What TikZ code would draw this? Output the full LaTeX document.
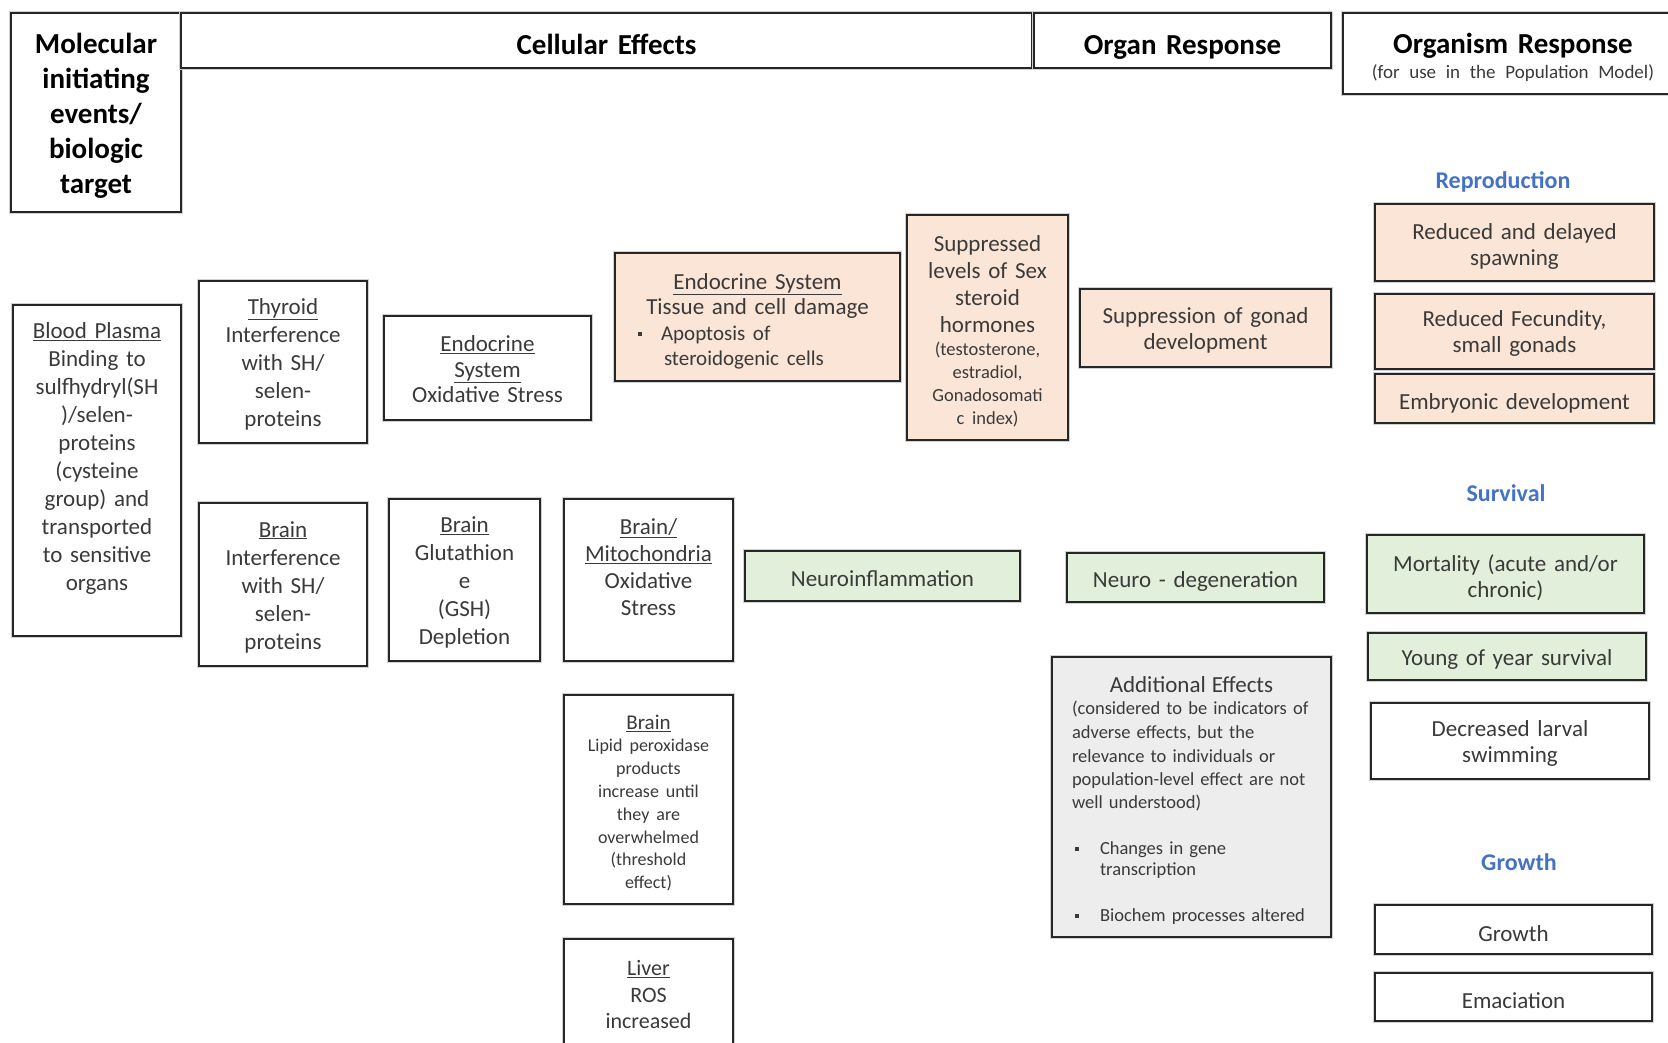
\documentclass[tikz,border=0pt]{standalone}
\usepackage{fontspec}
\setmainfont{Carlito}
\definecolor{peach}{HTML}{FBE5D6}
\definecolor{mint}{HTML}{E2EFDA}
\definecolor{haze}{HTML}{EDEDED}
\definecolor{catblue}{HTML}{4472C4}
\definecolor{ink}{HTML}{3A3A3A}
\newcommand{\sqbullet}{\rule[0.2em]{4pt}{4pt}}
\tikzset{
  lower/.store in=\lowerdist,
  box/.style={draw=black!85, line width=2.2pt,
    preaction={draw=black!18, line width=4.6pt},
    fill=white, inner xsep=5pt, inner ysep=2pt, align=center,
    text=ink, font=\fontsize{23}{28}\selectfont,
    lower=7pt, execute at end node={\par\vspace*{-\lowerdist}}},
  % single-line boxes: baseline placed by a fixed text height
  oneline/.style={lower=0pt, text height=#1, text depth=0pt},
  head/.style={box, text=black, font=\bfseries\fontsize{29}{35}\selectfont},
  catlabel/.style={text=catblue, font=\bfseries\fontsize{24}{29}\selectfont},
}
\begin{document}
\begin{tikzpicture}[x=1pt,y=-1pt]
\useasboundingbox (0,0) rectangle (1668,1042);
\clip (0,0) rectangle (1668,1042);

% column headers
\node[head, lower=6.5pt, minimum width=170pt, minimum height=199pt, text width=160pt] (mol) at (96,112.5)
  {Molecular\\initiating\\events/\\biologic\\target};
\node[head, oneline=27pt, minimum width=851pt, minimum height=55pt, text width=841pt] (cell) at (606.5,40.5)
  {Cellular Effects};
\node[head, oneline=27pt, minimum width=297pt, minimum height=55pt, text width=287pt] (organ) at (1182.5,40.5)
  {Organ Response};
\node[head, lower=8pt, minimum width=340pt, minimum height=81pt, text width=330pt] (orgm) at (1513,53.5)
  {Organism Response\\{\mdseries\fontsize{19}{25}\selectfont\color{ink}(for use in the Population Model)\par}};

% molecular initiating event
\node[box, lower=0pt, minimum width=168pt, minimum height=331pt, text width=158pt] (blood) at (97,470.5)
  {\underline{Blood Plasma}\\Binding to\\sulfhydryl(SH\\)/selen-\\proteins\\(cysteine\\group) and\\transported\\to sensitive\\organs\\\mbox{}};

% cellular effects
\node[box, lower=4pt, minimum width=168pt, minimum height=162pt, text width=158pt] (thyroid) at (283,362)
  {\underline{Thyroid}\\Interference\\with SH/\\selen-\\proteins};
\node[box, lower=5pt, minimum width=168pt, minimum height=163pt, text width=158pt] (braininter) at (283,584.5)
  {\underline{Brain}\\Interference\\with SH/\\selen-\\proteins};
\node[box, lower=3pt, minimum width=207pt, minimum height=104pt, text width=197pt, font=\fontsize{23}{25.5}\selectfont] (endoox) at (487.5,368)
  {\underline{Endocrine}\\\underline{System}\\Oxidative Stress};
\node[box, lower=5pt, minimum width=151pt, minimum height=162pt, text width=141pt] (brainglut) at (464.5,580)
  {\underline{Brain}\\Glutathion\\e\\(GSH)\\Depletion};
\node[box, lower=1pt, minimum width=169pt, minimum height=162pt, text width=159pt, font=\fontsize{23}{27}\selectfont] (brainmito) at (648.5,580)
  {\underline{Brain/}\\\underline{Mitochondria}\\Oxidative\\Stress\\\mbox{}};
\node[box, lower=7pt, minimum width=169pt, minimum height=209pt, text width=159pt, font=\fontsize{21}{26}\selectfont] (brainlipid) at (648.5,799.5)
  {\underline{Brain}\\{\fontsize{18}{22.8}\selectfont Lipid peroxidase\\products\\increase until\\they are\\overwhelmed\\(threshold\\effect)\par}};
\node[box, lower=0pt, minimum width=169pt, minimum height=111pt, text width=159pt, font=\fontsize{22}{26.5}\selectfont] (liver) at (648.5,994.5)
  {\underline{Liver}\\ROS\\increased};
\node[box, lower=8.5pt, fill=peach, minimum width=285pt, minimum height=128pt, text width=275pt, font=\fontsize{23}{25.5}\selectfont] (endotissue) at (757.5,317)
  {\underline{Endocrine System}\\Tissue and cell damage\\
   {\fontsize{21}{25.5}\selectfont
   \makebox[\hsize][l]{\hspace{18pt}\sqbullet\hspace{19pt}Apoptosis of}\\
   \makebox[\hsize][l]{\hspace{44pt}steroidogenic cells}\par}};
\node[box, lower=7pt, fill=peach, minimum width=161pt, minimum height=225pt, text width=151pt, font=\fontsize{23}{27}\selectfont] (sexsteroid) at (987.5,327.5)
  {Suppressed\\levels of Sex\\steroid\\hormones\\
   {\fontsize{18.5}{23}\selectfont (testosterone,\\estradiol,\\Gonadosomati\\c index)\par}};
\node[box, oneline=21.5pt, fill=mint, minimum width=275pt, minimum height=50pt, text width=265pt] (neuroinfl) at (882.5,576)
  {Neuroinflammation};

% organ response
\node[box, lower=5.5pt, fill=peach, minimum width=251pt, minimum height=78pt, text width=241pt, font=\fontsize{23}{26}\selectfont] (gonad) at (1205.5,328)
  {Suppression of gonad\\development};
\node[box, oneline=20.5pt, fill=mint, minimum width=257pt, minimum height=49pt, text width=247pt] (neurodeg) at (1195.5,577.5)
  {Neuro - degeneration};
\node[box, lower=7.5pt, fill=haze, minimum width=279pt, minimum height=280pt, inner xsep=20pt, text width=239pt, align=left, font=\fontsize{18.5}{23.4}\selectfont] (addl) at (1191.5,797)
  {\makebox[\hsize][c]{\fontsize{23}{28}\selectfont Additional Effects}\\[-1.5pt]
   \mbox{(considered to be indicators of}\\[0.5pt]
   \mbox{adverse effects, but the}\\
   \mbox{relevance to individuals or}\\
   \mbox{population-level effect are not}\\
   \mbox{well understood)}\\[22.5pt]
   \makebox[\hsize][l]{\hspace{3pt}\sqbullet\hspace{21pt}Changes in gene}\\[-2.5pt]
   \makebox[\hsize][l]{\hspace{28pt}transcription}\\[22.5pt]
   \makebox[\hsize][l]{\hspace{3pt}\sqbullet\hspace{21pt}Biochem processes altered}};

% organism response
\node[catlabel] (reprolbl) at (1503,182) {Reproduction};
\node[box, fill=peach, minimum width=279pt, minimum height=77pt, text width=269pt, font=\fontsize{23}{26}\selectfont] (repro1) at (1514.5,242.5)
  {Reduced and delayed\\spawning};
\node[box, lower=4.5pt, fill=peach, minimum width=279pt, minimum height=75pt, text width=269pt, font=\fontsize{23}{26}\selectfont] (repro2) at (1514.5,331.5)
  {Reduced Fecundity,\\small gonads};
\node[box, oneline=21pt, fill=peach, minimum width=279pt, minimum height=49pt, text width=269pt] (repro3) at (1514.5,398.5)
  {Embryonic development};

\node[catlabel] (survlbl) at (1506,493) {Survival};
\node[box, lower=6.5pt, fill=mint, minimum width=277pt, minimum height=78pt, text width=267pt, font=\fontsize{23}{26}\selectfont] (mortality) at (1505.5,574)
  {Mortality (acute and/or\\chronic)};
\node[box, oneline=18.5pt, fill=mint, minimum width=278pt, minimum height=47pt, text width=268pt] (young) at (1507,656.5)
  {Young of year survival};
\node[box, lower=5.5pt, minimum width=278pt, minimum height=76pt, text width=268pt, font=\fontsize{23}{26}\selectfont] (larval) at (1510,741)
  {Decreased larval\\swimming};

\node[catlabel] (growlbl) at (1519,862) {Growth};
\node[box, oneline=23pt, minimum width=277pt, minimum height=49pt, text width=267pt] (growth) at (1513.5,929.5)
  {Growth};
\node[box, oneline=23.5pt, minimum width=277pt, minimum height=48pt, text width=267pt] (emaciation) at (1513.5,997)
  {Emaciation};
\end{tikzpicture}
\end{document}
